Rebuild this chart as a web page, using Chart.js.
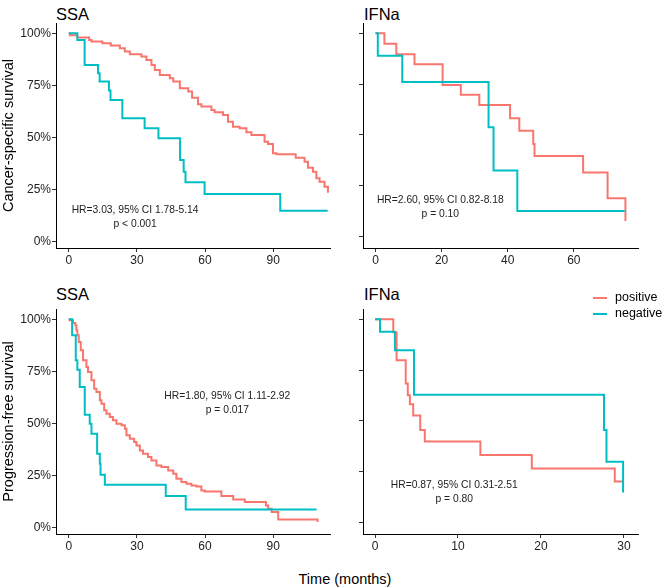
<!DOCTYPE html>
<html>
<head>
<meta charset="utf-8">
<script src="https://cdn.jsdelivr.net/npm/chart.js@4.4.1/dist/chart.umd.min.js"></script>
<style>
  html, body { margin: 0; padding: 0; background: #fff; }
  body { width: 667px; height: 588px; position: relative; overflow: hidden;
         font-family: 'Liberation Sans', Arial, sans-serif; color: #000; }
  canvas { position: absolute; }
  .title { position: absolute; font-size: 16.5px; line-height: 1; white-space: nowrap; }
  .xlab { position: absolute; left: 0; width: 690px; top: 572px; text-align: center;
          font-size: 14.5px; line-height: 1; }
  .key { position: absolute; left: 593px; width: 14px; height: 2px; }
  .keytxt { position: absolute; left: 615px; font-size: 12.5px; line-height: 1; }
</style>
</head>
<body>
<div class="title" style="left:56px; top:6px;">SSA</div>
<div class="title" style="left:364px; top:6px;">IFNa</div>
<div class="title" style="left:56px; top:286px;">SSA</div>
<div class="title" style="left:364px; top:286px;">IFNa</div>

<canvas id="cssSsa" width="345" height="268" style="left:0; top:0;"></canvas>
<canvas id="cssIfn" width="322" height="268" style="left:345px; top:0;"></canvas>
<canvas id="pfsSsa" width="345" height="268" style="left:0; top:286px;"></canvas>
<canvas id="pfsIfn" width="322" height="268" style="left:345px; top:286px;"></canvas>

<div class="key" style="top:297px; background:#F8766D;"></div>
<div class="keytxt" style="top:291px;">positive</div>
<div class="key" style="top:313px; background:#00BFC4;"></div>
<div class="keytxt" style="top:307px;">negative</div>

<div class="xlab">Time (months)</div>

<script>
const POS_COLOR = '#F8766D';
const NEG_COLOR = '#00BFC4';

// Cancer-specific survival, SSA (months / % surviving)
const cssSsaPosTime = [0, 0.5, 3.8, 9.0, 10.0, 14.8, 18.5, 22.5, 24.7, 26.9, 32.0, 34.2, 36.4, 37.9, 40.1, 44.5, 46.0, 48.9, 52.6, 54.3, 56.9, 58.4, 62.8, 64.2, 67.9, 70.1, 72.3, 75.2, 78.2, 80.4, 86.2, 87.7, 89.9, 91.4, 99.9, 103.8, 105.3, 107.5, 109.0, 110.4, 112.6, 114.1, 114.5];
const cssSsaPosSurv = [100, 99.0, 98.0, 96.8, 96.0, 95.2, 94.1, 92.8, 91.2, 89.9, 88.8, 87.2, 84.8, 82.4, 80.0, 78.4, 76.8, 73.6, 72.0, 69.0, 65.9, 64.8, 63.2, 62.1, 60.8, 57.6, 55.2, 54.4, 52.5, 51.2, 48.0, 46.9, 42.4, 41.9, 40.3, 38.4, 35.5, 33.6, 30.4, 28.8, 26.4, 24.0, 24.0];
const cssSsaNegTime = [0, 3.8, 7.0, 12.9, 13.6, 17.7, 18.4, 23.6, 33.4, 39.5, 49.0, 50.6, 51.4, 59.8, 93.1, 114.0];
const cssSsaNegSurv = [100, 96.8, 84.8, 80.8, 76.8, 72.5, 68.0, 59.2, 54.4, 49.6, 39.2, 33.6, 28.5, 22.9, 14.9, 14.9];

// Cancer-specific survival, IFNa
const cssIfnPosTime = [0, 2.7, 6.3, 11.8, 20.3, 25.8, 31.4, 40.7, 43.5, 47.7, 48.1, 62.8, 70.2, 75.6];
const cssIfnPosSurv = [100, 94.8, 89.7, 84.8, 74.6, 69.8, 64.8, 58.2, 52.1, 45.6, 39.7, 31.6, 18.9, 7.7];
const cssIfnNegTime = [0, 0.7, 8.1, 34.2, 35.7, 42.9, 75.4];
const cssIfnNegSurv = [100, 89.0, 76.1, 53.8, 32.5, 12.6, 12.6];

// Progression-free survival, SSA
const pfsSsaPosTime = [0, 0.4, 1.9, 2.9, 3.4, 3.8, 4.4, 5.3, 6.3, 7.8, 8.5, 10.0, 11.2, 12.2, 13.7, 14.4, 15.6, 16.6, 18.1, 19.5, 21.0, 23.2, 24.7, 25.4, 26.9, 28.8, 29.8, 31.3, 32.7, 34.9, 36.4, 38.6, 40.8, 43.8, 46.0, 47.4, 49.6, 51.8, 54.0, 56.2, 58.4, 59.9, 67.2, 72.4, 77.5, 86.8, 87.8, 89.3, 92.2, 109.1, 109.5];
const pfsSsaPosSurv = [100, 99.5, 98.2, 97.1, 94.7, 92.3, 89.1, 85.1, 80.3, 77.1, 74.7, 70.7, 66.7, 65.1, 61.1, 59.5, 56.3, 54.7, 53.1, 51.5, 49.9, 49.1, 47.5, 44.3, 42.7, 41.1, 39.5, 37.1, 35.5, 33.9, 32.3, 29.9, 29.1, 27.5, 25.9, 23.5, 21.9, 21.1, 20.3, 19.8, 17.9, 17.4, 15.2, 13.6, 12.3, 10.7, 9.1, 7.5, 4.0, 4.0, 2.7];
const pfsSsaNegTime = [0, 1.5, 3.1, 3.8, 4.85, 7.05, 9.25, 10.0, 12.5, 13.7, 14.0, 15.9, 42.7, 51.5, 109.1];
const pfsSsaNegSurv = [100, 92.3, 80.3, 75.8, 67.5, 54.2, 49.9, 45.1, 35.5, 30.7, 25.4, 20.6, 15.2, 8.8, 8.8];

// Progression-free survival, IFNa
const pfsIfnPosTime = [0, 2.2, 2.6, 3.7, 3.95, 4.2, 4.6, 5.45, 6.0, 12.7, 18.9, 28.9, 29.9];
const pfsIfnPosSurv = [100, 93.6, 79.9, 68.4, 62.6, 58.2, 52.7, 45.6, 39.9, 33.3, 26.7, 20.3, 20.3];
const pfsIfnNegTime = [0, 0.6, 2.4, 4.7, 27.6, 27.9, 29.9];
const pfsIfnNegSurv = [100, 93.9, 84.8, 62.9, 45.6, 30.0, 14.8];

// tick labels
const ssaXTicks = [0, 30, 60, 90];
const cssIfnXTicks = [0, 20, 40, 60];
const pfsIfnXTicks = [0, 10, 20, 30];
const survTicks = [0, 25, 50, 75, 100];

Chart.defaults.font.family = "'Liberation Sans', Arial, sans-serif";

function toPoints(times, surv) {
    return times.map((t, i) => ({ x: t, y: surv[i] }));
}

// HR / p-value text, anchored in data coordinates
const notePlugin = {
    id: 'hrNote',
    afterDatasetsDraw(chart, args, opts) {
        const { ctx, scales } = chart;
        const cx = scales.x.getPixelForValue(opts.x);
        const cy = scales.y.getPixelForValue(opts.y);
        ctx.save();
        ctx.font = "10.3px 'Liberation Sans', Arial, sans-serif";
        ctx.fillStyle = '#222';
        ctx.textAlign = 'center';
        ctx.textBaseline = 'middle';
        opts.lines.forEach((line, i) => {
            ctx.fillText(line, cx, cy + (i - (opts.lines.length - 1) / 2) * 14);
        });
        ctx.restore();
    }
};

function makeChart(id, cfg) {
    const isLeft = !!cfg.yTitle;
    return new Chart(document.getElementById(id), {
        type: 'line',
        data: {
            datasets: [
                {
                    label: 'positive',
                    data: toPoints(cfg.posTime, cfg.posSurv),
                    borderColor: POS_COLOR,
                    borderWidth: 2,
                    stepped: true,
                    pointRadius: 0,
                    fill: false,
                    order: 1
                },
                {
                    label: 'negative',
                    data: toPoints(cfg.negTime, cfg.negSurv),
                    borderColor: NEG_COLOR,
                    borderWidth: 2,
                    stepped: true,
                    pointRadius: 0,
                    fill: false,
                    order: 0
                }
            ]
        },
        options: {
            responsive: false,
            animation: false,
            events: [],
            layout: {
                padding: { top: 23, right: cfg.padRight, bottom: 0, left: 0 }
            },
            plugins: {
                legend: { display: false },
                tooltip: { enabled: false },
                hrNote: { x: cfg.noteX, y: cfg.noteY, lines: cfg.note }
            },
            scales: {
                x: {
                    type: 'linear',
                    min: cfg.xMin,
                    max: cfg.xMax,
                    afterBuildTicks: (scale) => { scale.ticks = cfg.xTicks.map(v => ({ value: v })); },
                    afterFit: (scale) => { scale.height = 20; },
                    ticks: { font: { size: 12 }, color: '#222', padding: 1, maxRotation: 0, autoSkip: false },
                    grid: { drawOnChartArea: false, drawTicks: true, tickLength: 4, color: '#333' },
                    border: { display: true, color: '#000', width: 1 }
                },
                y: {
                    type: 'linear',
                    min: cfg.yMin,
                    max: cfg.yMax,
                    afterBuildTicks: (scale) => { scale.ticks = survTicks.map(v => ({ value: v })); },
                    afterFit: (scale) => { scale.width = isLeft ? 56 : 18; },
                    ticks: {
                        display: isLeft,
                        font: { size: 12 },
                        color: '#222',
                        padding: 1,
                        callback: (v) => v + '%'
                    },
                    title: {
                        display: isLeft,
                        text: cfg.yTitle || '',
                        font: { size: 14.5 },
                        color: '#000',
                        padding: { top: 0, bottom: 0 }
                    },
                    grid: { drawOnChartArea: false, drawTicks: true, tickLength: 4, color: '#333' },
                    border: { display: true, color: '#000', width: 1 }
                }
            }
        },
        plugins: [notePlugin]
    });
}

makeChart('cssSsa', {
    posTime: cssSsaPosTime, posSurv: cssSsaPosSurv,
    negTime: cssSsaNegTime, negSurv: cssSsaNegSurv,
    xMin: -5.6, xMax: 115, xTicks: ssaXTicks,
    yMin: -3.0, yMax: 104.9, padRight: 15,
    yTitle: 'Cancer-specific survival',
    noteX: 29.2, noteY: 11.9, note: ['HR=3.03, 95% CI 1.78-5.14', 'p < 0.001']
});

makeChart('cssIfn', {
    posTime: cssIfnPosTime, posSurv: cssIfnPosSurv,
    negTime: cssIfnNegTime, negSurv: cssIfnNegSurv,
    xMin: -3.78, xMax: 79.4, xTicks: cssIfnXTicks,
    yMin: -5.56, yMax: 105.06, padRight: 29,
    noteX: 19.6, noteY: 14.6, note: ['HR=2.60, 95% CI 0.82-8.18', 'p = 0.10']
});

makeChart('pfsSsa', {
    posTime: pfsSsaPosTime, posSurv: pfsSsaPosSurv,
    negTime: pfsSsaNegTime, negSurv: pfsSsaNegSurv,
    xMin: -5.6, xMax: 115, xTicks: ssaXTicks,
    yMin: -3.0, yMax: 104.9, padRight: 15,
    yTitle: 'Progression-free survival',
    noteX: 69.8, noteY: 59.8, note: ['HR=1.80, 95% CI 1.11-2.92', 'p = 0.017']
});

makeChart('pfsIfn', {
    posTime: pfsIfnPosTime, posSurv: pfsIfnPosSurv,
    negTime: pfsIfnNegTime, negSurv: pfsIfnNegSurv,
    xMin: -1.45, xMax: 31.7, xTicks: pfsIfnXTicks,
    yMin: -5.56, yMax: 105.06, padRight: 29,
    noteX: 9.55, noteY: 14.8, note: ['HR=0.87, 95% CI 0.31-2.51', 'p = 0.80']
});
</script>
</body>
</html>
